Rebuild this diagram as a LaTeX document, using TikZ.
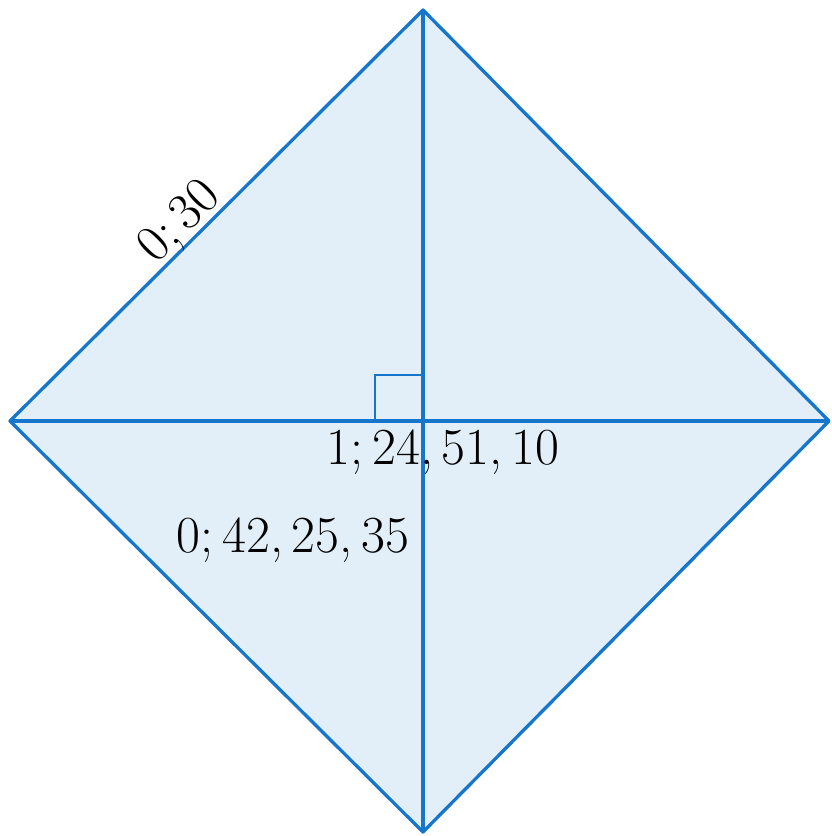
\documentclass[tikz,border=0pt]{standalone}
\begin{document}
\begin{tikzpicture}[x=1pt,y=-1pt,
  edge/.style={draw=lineblue,line width=3.3pt,line join=round},
  thin/.style={draw=lineblue,line width=1.6pt},
  lab/.style={font=\fontsize{52}{60}\selectfont,inner sep=0pt,text=black}]
\definecolor{lineblue}{RGB}{22,118,204}
\definecolor{fillblue}{RGB}{226,239,248}
\useasboundingbox (0,0) rectangle (831,836);
\coordinate (T) at (423,10);
\coordinate (L) at (10,421);
\coordinate (R) at (829,421);
\coordinate (B) at (423,832);
\coordinate (O) at (423,421);
\fill[fillblue] (T) -- (R) -- (B) -- (L) -- cycle;
\draw[thin] (375,421) -- (375,375) -- (423,375);
\draw[edge] (T) -- (R) -- (B) -- (L) -- cycle;
\draw[edge] (T) -- (B);
\draw[edge] (L) -- (R);
\node[lab,rotate=45] (a) at (181,223) {0;\,30};
\node[lab] (b) at (443,452) {1;\,24,\,51,\,10};
\node[lab] (c) at (293,540) {0;\,42,\,25,\,35};
\end{tikzpicture}
\end{document}
